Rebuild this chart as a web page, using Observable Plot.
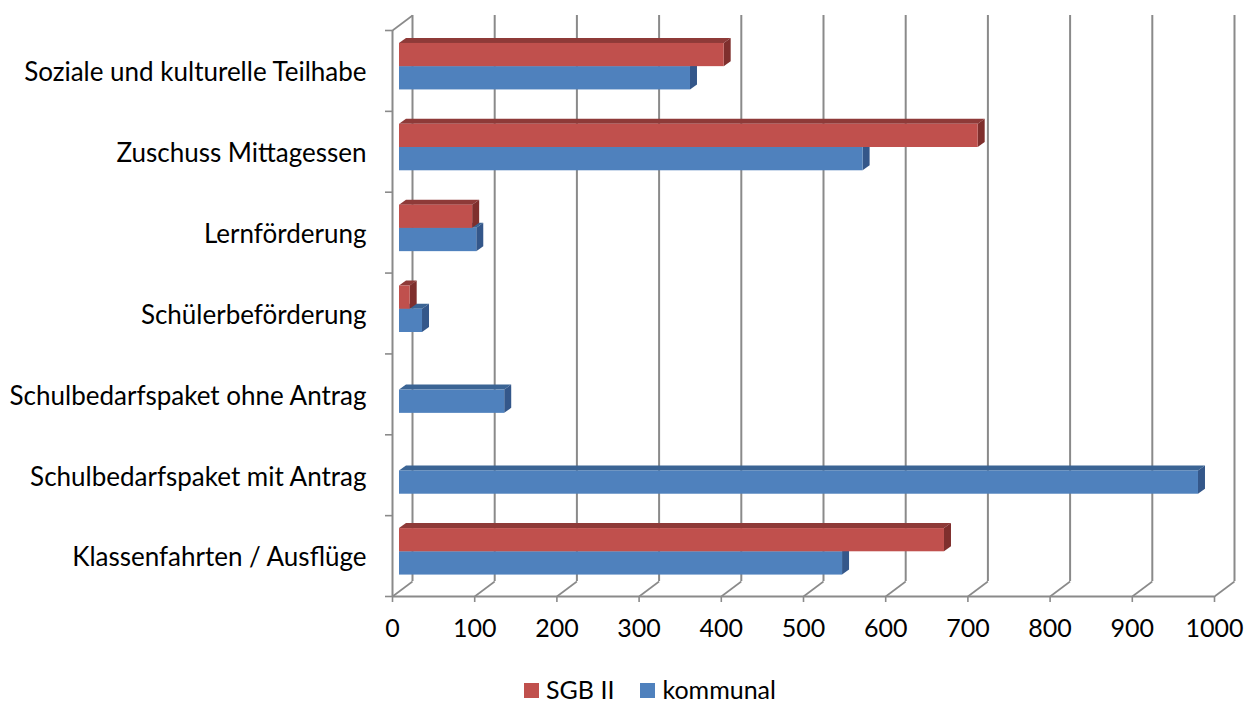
<!DOCTYPE html>
<html>
<head>
<meta charset="utf-8">
<script src="https://cdn.jsdelivr.net/npm/d3@7"></script>
<script src="https://cdn.jsdelivr.net/npm/@observablehq/plot@0.6"></script>
<style>
  html, body { margin: 0; padding: 0; background: #fff; }
  body { width: 1254px; height: 706px; overflow: hidden; font-family: Lato, "Open Sans", sans-serif; }
  #legend { display: flex; justify-content: center; align-items: center; gap: 26px; font-size: 25px; color: #000; padding-left: 46px; margin-top: 9px; line-height: 30px; }
  #legend .item { display: flex; align-items: center; gap: 7px; }
  #legend .sw { width: 15px; height: 15px; display: inline-block; margin-top: 3px; }
</style>
</head>
<body>
<div id="chart"></div>
<div id="legend"></div>
<script>
const categories = [
  "Soziale und kulturelle Teilhabe",
  "Zuschuss Mittagessen",
  "Lernförderung",
  "Schülerbeförderung",
  "Schulbedarfspaket ohne Antrag",
  "Schulbedarfspaket mit Antrag",
  "Klassenfahrten / Ausflüge"
];
const seriesNames = ["SGB II", "kommunal"];
const sgb2 = [395, 704, 89, 13, 0, 0, 663];
const kommunal = [354, 564, 94, 28, 128, 972, 539];
const xTicks = [0, 100, 200, 300, 400, 500, 600, 700, 800, 900, 1000];

const colors = {
  "SGB II": {front: "#C0504D", top: "#8E3A38", side: "#7F2F2D"},
  "kommunal": {front: "#4F81BD", top: "#3B6494", side: "#34578A"}
};

// layout
const W = 1254, H = 665;
const mL = 392, mR = 40, mT = 30, mB = 69;
const pxX = (W - mL - mR) / 1000;
const pxY = (H - mT - mB) / categories.length;
const wallDX = 20 / pxX, wallDY = 15 / pxY;      // back wall depth in data units
const barDX = 7 / pxX, barDY = 5 / pxY;          // bar depth in data units
const slot = {"SGB II": [0.16, 0.447], "kommunal": [0.447, 0.735]};

const bars = [];
categories.forEach((c, i) => {
  bars.push({cat: c, i, series: "kommunal", value: kommunal[i]});
  bars.push({cat: c, i, series: "SGB II", value: sgb2[i]});
});
const visible = bars.filter(d => d.value > 0);

const marks = [];
// back wall gridlines
marks.push(Plot.ruleX(xTicks, {dx: 20, dy: -15, stroke: "#8a8a8a", strokeWidth: 2}));
// floor diagonals
marks.push(Plot.link(xTicks, {x1: d => d, y1: categories.length, x2: d => d + wallDX, y2: categories.length - wallDY, stroke: "#8a8a8a", strokeWidth: 1.6}));
// left wall top diagonal
marks.push(Plot.link([0], {x1: 0, y1: 0, x2: wallDX, y2: -wallDY, stroke: "#8a8a8a", strokeWidth: 1.6}));

for (const s of ["kommunal", "SGB II"]) {
  const data = visible.filter(d => d.series === s);
  const topPts = data.flatMap(d => {
    const yTop = d.i + slot[s][0];
    return [
      {id: d.cat, y: yTop, x1: 0, x2: d.value},
      {id: d.cat, y: yTop - barDY, x1: barDX, x2: d.value + barDX}
    ];
  });
  const sidePts = data.flatMap(d => {
    const yTop = d.i + slot[s][0], yBot = d.i + slot[s][1];
    return [
      {id: d.cat, x: d.value, y1: yTop, y2: yBot},
      {id: d.cat, x: d.value + barDX, y1: yTop - barDY, y2: yBot - barDY}
    ];
  });
  marks.push(Plot.areaX(topPts, {y: "y", x1: "x1", x2: "x2", z: "id", fill: colors[s].top, dx: 7, curve: "linear"}));
  marks.push(Plot.areaY(sidePts, {x: "x", y1: "y1", y2: "y2", z: "id", fill: colors[s].side, dx: 7, curve: "linear"}));
  marks.push(Plot.rectX(data, {
    x1: 0, x2: "value",
    y1: d => d.i + slot[s][0], y2: d => d.i + slot[s][1],
    fill: colors[s].front, dx: 7
  }));
}

// front axes
marks.push(Plot.ruleX([0], {y1: 0, y2: categories.length, stroke: "#8a8a8a", strokeWidth: 2}));
marks.push(Plot.ruleY([categories.length], {x1: 0, x2: 1000, stroke: "#8a8a8a", strokeWidth: 2}));
marks.push(Plot.axisX(xTicks, {tickSize: 6, tickPadding: 17, tickFormat: d3.format("d"), stroke: "#8a8a8a", strokeWidth: 1.6, fill: "#000", fontSize: 25, label: null}));
marks.push(Plot.axisY(d3.range(categories.length + 1), {tickSize: 7, tickFormat: () => "", stroke: "#8a8a8a", strokeWidth: 1.6, label: null}));
marks.push(Plot.axisY(categories.map((c, i) => i + 0.5), {tickSize: 0, tickPadding: 26, dy: 2, tickFormat: v => categories[Math.round(v - 0.5)], fill: "#000", fontSize: 26, label: null}));

const chart = Plot.plot({
  width: W, height: H,
  marginLeft: mL, marginRight: mR, marginTop: mT, marginBottom: mB,
  style: {fontFamily: "Lato, 'Open Sans', sans-serif", background: "#fff", overflow: "visible"},
  x: {domain: [0, 1000], axis: null},
  y: {domain: [0, categories.length], reverse: true, axis: null},
  marks
});
document.getElementById("chart").appendChild(chart);

const legend = document.getElementById("legend");
seriesNames.forEach(s => {
  const item = document.createElement("div");
  item.className = "item";
  const sw = document.createElement("span");
  sw.className = "sw";
  sw.style.background = colors[s].front;
  const t = document.createElement("span");
  t.textContent = s;
  item.appendChild(sw);
  item.appendChild(t);
  legend.appendChild(item);
});
</script>
</body>
</html>
